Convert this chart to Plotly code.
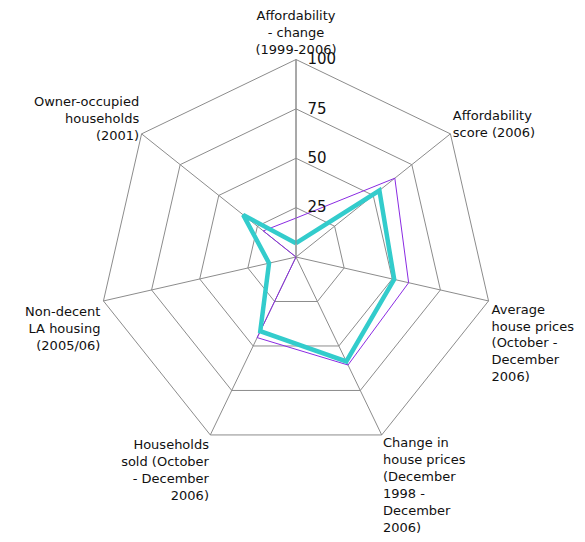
import plotly.graph_objects as go

categories = [
    "Affordability<br>- change<br>(1999-2006)",
    "Affordability<br>score (2006)",
    "<br><br><br>Average<br>house prices<br>(October -<br>December<br>2006)",
    "Change in<br>house prices<br>(December<br>1998 -<br>December<br>2006)",
    "Households<br>sold (October<br>- December<br>2006)",
    "<br><br>Non-decent<br>LA housing<br>(2005/06)",
    "Owner-occupied<br>households<br>(2001)",
]
series_purple = [19.7, 64, 58.5, 60.7, 45.3, 0, 21.2]
series_cyan = [7, 54, 51, 58.7, 41.7, 14, 34.2]
radial_ticks = [25, 50, 75, 100]


def closed(v):
    return v + v[:1]


fig = go.Figure()
fig.add_trace(go.Scatterpolar(
    r=closed(series_purple), theta=closed(categories), mode="lines",
    line=dict(color="#8a2be2", width=1), showlegend=False,
))
fig.add_trace(go.Scatterpolar(
    r=closed(series_cyan), theta=closed(categories), mode="lines",
    line=dict(color="#33cccc", width=4.5), showlegend=False,
))

# page body has an 8px default margin, so the domain is offset accordingly
W, H = 585, 542
cx, cy, R = 296 - 8, 257 - 8, 197.5

grid = "#8c8c8c"
fig.update_layout(
    width=W, height=H,
    margin=dict(l=0, r=0, t=0, b=0),
    paper_bgcolor="white",
    font=dict(family="DejaVu Sans", size=13, color="#111"),
    polar=dict(
        domain=dict(x=[(cx - R) / W, (cx + R) / W],
                    y=[(H - cy - R) / H, (H - cy + R) / H]),
        bgcolor="white",
        gridshape="linear",
        angularaxis=dict(
            type="category", categoryarray=categories,
            direction="clockwise", rotation=90,
            showline=True, linecolor=grid, linewidth=1,
            gridcolor=grid, gridwidth=1, ticks="",
            tickfont=dict(family="DejaVu Sans", size=13, color="#111"),
        ),
        radialaxis=dict(
            range=[0, 100], tickvals=radial_ticks,
            ticks="outside", ticklen=8, tickcolor="rgba(0,0,0,0)",
            angle=90, tickangle=90,
            showline=True, linecolor=grid, linewidth=1,
            gridcolor=grid, gridwidth=1,
            tickfont=dict(family="DejaVu Sans", size=15, color="#111"),
        ),
    ),
)
fig.write_html("out.html")
